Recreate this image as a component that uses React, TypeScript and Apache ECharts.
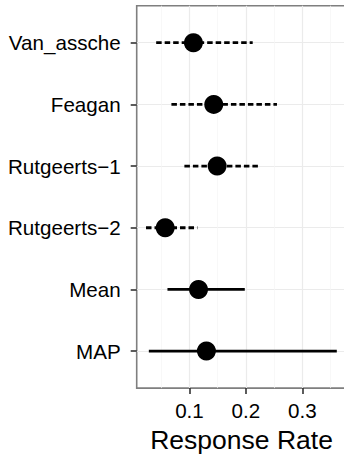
import React, { useEffect, useRef } from "react";
import * as echarts from "echarts";

const studies = ["Van_assche", "Feagan", "Rutgeerts\u22121", "Rutgeerts\u22122", "Mean", "MAP"];
const estimates = [0.107, 0.143, 0.149, 0.057, 0.116, 0.13];
const lowerBounds = [0.041, 0.068, 0.091, 0.023, 0.061, 0.028];
const upperBounds = [0.212, 0.255, 0.223, 0.114, 0.198, 0.361];
const dashedRows = [1, 1, 1, 1, 0, 0];
const majorTicks = [0.1, 0.2, 0.3];
const minorTicks = [0.05, 0.15, 0.25, 0.35];
const rowPositions = [1, 2, 3, 4, 5, 6];

const FONT = "Liberation Sans";

export default function App() {
  const ref = useRef<HTMLDivElement>(null);
  useEffect(() => {
    if (!ref.current) return;
    const chart = echarts.init(ref.current, undefined, { renderer: "svg" });
    const intervalData = studies.map((_, i) => [rowPositions[i], lowerBounds[i], upperBounds[i], dashedRows[i]]);
    const pointData = studies.map((_, i) => [estimates[i], rowPositions[i]]);
    chart.setOption({
      animation: false,
      grid: {
        left: 136.7,
        right: 3.6,
        top: 5.7,
        bottom: 63,
        show: true,
        borderColor: "#7f7f7f",
        borderWidth: 1.6,
        backgroundColor: "#fff",
      },
      xAxis: [
        {
          type: "value",
          min: 0.0065,
          max: 0.378,
          position: "bottom",
          axisLine: { show: false },
          axisTick: { show: true, length: 6, customValues: majorTicks, lineStyle: { color: "#333", width: 1.6 } },
          axisLabel: {
            customValues: majorTicks,
            margin: 12,
            fontSize: 20.6,
            fontFamily: FONT,
            color: "#000",
            formatter: (v: number) => v.toFixed(1),
          },
          splitLine: { show: true, lineStyle: { color: "#ebebeb", width: 1.2 } },
          name: "Response Rate",
          nameLocation: "middle",
          nameGap: 30,
          nameTextStyle: { fontSize: 26.5, fontFamily: FONT, color: "#000" },
        },
        {
          type: "value",
          min: 0.0065,
          max: 0.378,
          position: "bottom",
          axisLine: { show: false },
          axisTick: { show: false, customValues: minorTicks },
          axisLabel: { show: false, customValues: minorTicks },
          splitLine: { show: true, lineStyle: { color: "#f5f5f5", width: 0.7 } },
          z: 0,
        },
      ],
      yAxis: {
        type: "value",
        min: 0.4,
        max: 6.6,
        inverse: true,
        axisLine: { show: false },
        axisTick: { show: true, length: 6, customValues: rowPositions, lineStyle: { color: "#333", width: 1.6 } },
        axisLabel: {
          customValues: rowPositions,
          margin: 16,
          fontSize: 20.6,
          fontFamily: FONT,
          color: "#000",
          formatter: (v: number) => studies[Math.round(v) - 1] ?? "",
        },
        splitLine: { show: true, lineStyle: { color: "#ebebeb", width: 1.2 } },
      },
      series: [
        {
          type: "custom",
          xAxisIndex: 0,
          yAxisIndex: 0,
          data: intervalData,
          encode: { x: [1, 2], y: 0 },
          renderItem: (params: any, api: any) => {
            const y = api.value(0);
            const p1 = api.coord([api.value(1), y]);
            const p2 = api.coord([api.value(2), y]);
            const dashed = api.value(3) === 1;
            return {
              type: "line",
              shape: { x1: p1[0], y1: p1[1], x2: p2[0], y2: p2[1] },
              style: { stroke: "#000", lineWidth: 2.8, lineDash: dashed ? [5.5, 3] : null, fill: null },
            };
          },
          z: 3,
        },
        {
          type: "scatter",
          xAxisIndex: 0,
          yAxisIndex: 0,
          data: pointData,
          symbol: "circle",
          symbolSize: 19,
          itemStyle: { color: "#000", opacity: 1 },
          z: 4,
        },
      ],
    });
    return () => chart.dispose();
  }, []);
  return (
    <div style={{ position: "fixed", left: 0, top: 0, width: 344, height: 458, overflow: "hidden", background: "#fff" }}>
      <div ref={ref} style={{ width: 350, height: 458 }} />
    </div>
  );
}
